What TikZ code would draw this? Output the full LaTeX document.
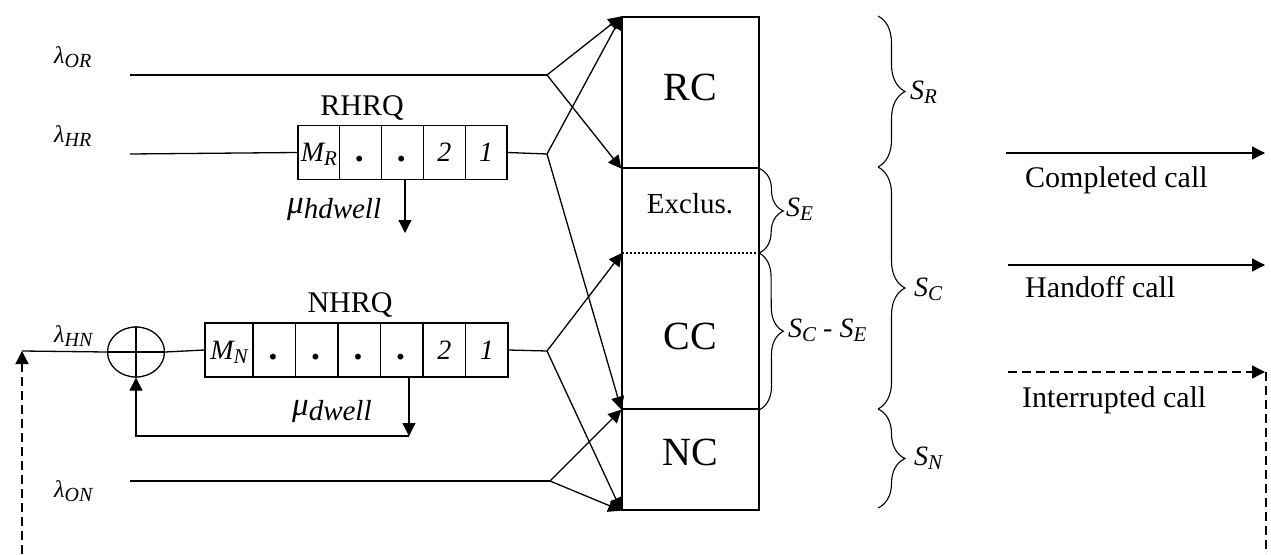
\documentclass[tikz,border=0pt]{standalone}
\usepackage{fontspec}
\setmainfont{Liberation Serif}
\usepackage{graphicx}
\usetikzlibrary{arrows.meta,shapes.geometric,decorations.pathreplacing}
\newcommand\fs[1]{\fontsize{#1}{#1}\selectfont}
\newcommand\qdot{{\fs{36}\bfseries .}}
\tikzset{
  ln/.style={line width=1.3pt},
  arr/.style={ln,-{Triangle[length=13pt,width=13pt]}},
  dsh/.style={ln,dash pattern=on 9pt off 5pt},
  cellR/.style={draw,ln,minimum height=54pt,inner sep=0pt,text height=18pt,text depth=0pt,font=\fs{28}\itshape},
  boxpart/.style={draw,ln,minimum width=137pt,inner sep=0pt},
  brc/.style={decorate,decoration={brace,amplitude=#1},line width=1.1pt},
  lam/.style={anchor=base west,inner sep=0pt,font=\fs{24}\itshape},
  slab/.style={anchor=base west,inner sep=0pt,font=\fs{28}\itshape},
  qlab/.style={inner sep=0pt,font=\fs{30}},
  outlab/.style={anchor=base west,inner sep=0pt,font=\fs{30}},
}
\begin{document}
\begin{tikzpicture}[x=1pt,y=-1pt]
\useasboundingbox (0,0) rectangle (1271,554);

% ---- channel box ----
\node[boxpart,minimum height=151pt] (rc) at (690.5,92.5) {};
\node[boxpart,minimum height=241pt] (mid) at (690.5,288.5) {};
\node[boxpart,minimum height=101pt] (nc) at (690.5,459.5) {};
\coordinate (dl) at (622,253);
\coordinate (dr) at (759,253);
\draw[line width=1.2pt,dash pattern=on 2pt off 2pt] (dl) -- (dr);
\node[inner sep=0pt,font=\fs{40}] (rcT) at (690,87) {RC};
\node[inner sep=0pt,font=\fs{29}] (exT) at (690,204) {Exclus.};
\node[inner sep=0pt,font=\fs{40}] (ccT) at (690,336) {CC};
\node[inner sep=0pt,font=\fs{40}] (ncT) at (690,452) {NC};

% ---- input labels ----
\node[lam] (lOR) at (54,63) {λ\raisebox{-4pt}{\fs{20}OR}};
\node[lam] (lHR) at (54,142) {λ\raisebox{-4pt}{\fs{20}HR}};
\node[lam] (lHN) at (54,342) {λ\raisebox{-4pt}{\fs{20}HN}};
\node[lam] (lON) at (54,497) {λ\raisebox{-4pt}{\fs{20}ON}};

% ---- RHRQ queue ----
\node[qlab] (rhrq) at (362,108) {RHRQ};
\node[cellR,minimum width=41.8pt] (r1) at (318.9,152.5) {M\raisebox{-4pt}{\fs{21}R}};
\node[cellR,minimum width=41.8pt] (r2) at (360.7,152.5) {\qdot};
\node[cellR,minimum width=41.8pt] (r3) at (402.5,152.5) {\qdot};
\node[cellR,minimum width=41.8pt] (r4) at (444.3,152.5) {2};
\node[cellR,minimum width=41.8pt] (r5) at (486.1,152.5) {1};
\node[anchor=base west,inner sep=0pt] (muh) at (287,213) {\fs{33}\itshape μ\raisebox{-5pt}{\fs{29}hdwell}};

% ---- NHRQ queue ----
\node[qlab] (nhrq) at (350,305) {NHRQ};
\node[cellR,minimum width=48pt] (n1) at (229,350) {M\raisebox{-4pt}{\fs{21}N}};
\node[cellR,minimum width=42.5pt] (n2) at (274.25,350) {\qdot};
\node[cellR,minimum width=42.5pt] (n3) at (316.75,350) {\qdot};
\node[cellR,minimum width=42.5pt] (n4) at (359.25,350) {\qdot};
\node[cellR,minimum width=42.5pt] (n5) at (401.75,350) {\qdot};
\node[cellR,minimum width=42.5pt] (n6) at (444.25,350) {2};
\node[cellR,minimum width=42.5pt] (n7) at (486.75,350) {1};
\node[anchor=base west,inner sep=0pt] (mud) at (292,415) {\fs{33}\itshape μ\raisebox{-5pt}{\fs{29}dwell}};

% ---- summation ----
\node[ellipse,draw,ln,minimum width=57pt,minimum height=50pt,inner sep=0pt] (sum) at (136,352) {};
\draw[ln] (sum.north) -- (sum.south) (sum.west) -- (sum.east);

% ---- coordinates ----
\coordinate (sOR) at (130,75);
\coordinate (sHR) at (130,154);
\coordinate (sON) at (130,481);
\coordinate (jOR) at (547,75);
\coordinate (jHR) at (547,154);
\coordinate (jHN) at (547,351);
\coordinate (jON) at (550,481);
\coordinate (muRe) at (405,233);
\coordinate (fbR) at (409,436);
\coordinate (fbL) at (136,436);
\coordinate (fbk) at (22,351);
\coordinate (lb) at (22,554);

% ---- lines ----
\draw[ln] (sOR) -- (jOR);
\draw[ln] (sHR) -- (r1.west);
\draw[ln] (r5.east) -- (jHR);
\draw[ln] (sON) -- (jON);
\draw[ln] (sum.east) -- (n1.west);
\draw[ln] (n7.east) -- (jHN);
\draw[ln] (sum.west) -- (fbk);
\draw[arr] (r3.south -| muRe) -- (muRe);
\draw[arr] (n5.south -| fbR) -- (fbR);
\draw[arr] (fbR) -- (fbL) -- (sum.south);
\draw[dsh,-{Triangle[length=13pt,width=13pt]}] (lb) -- (fbk);

% ---- arrows into the channels ----
\draw[arr] (jOR) -- (rc.north west);
\draw[arr] (jOR) -- (rc.south west);
\draw[arr] (jHR) -- (rc.north west);
\draw[arr] (jHR) -- (mid.south west);
\draw[arr] (jHN) -- (dl);
\draw[arr] (jHN) -- (nc.south west);
\draw[arr] (jON) -- (mid.south west);
\draw[arr] (jON) -- (nc.south west);

% ---- braces ----
\coordinate (b0) at (878,16);
\coordinate (b1) at (878,167);
\coordinate (b2) at (878,409);
\coordinate (b3) at (878,508);
\draw[brc=27pt] (b0) -- (b1);
\draw[brc=27pt] (b1) -- (b2);
\draw[brc=27pt] (b2) -- (b3);
\draw[brc=24pt] (rc.south east) -- (dr);
\draw[brc=24pt] (dr) -- (mid.south east);
\node[slab] (SR) at (910,99) {S\raisebox{-4pt}{\fs{21}R}};
\node[slab] (SC) at (914,296) {S\raisebox{-4pt}{\fs{21}C}};
\node[slab] (SN) at (914,465) {S\raisebox{-4pt}{\fs{21}N}};
\node[slab] (SE) at (786,216) {S\raisebox{-4pt}{\fs{21}E}};
\node[slab] (SCE) at (788,337) {S\raisebox{-4pt}{\fs{21}C}\upshape{} - \itshape S\raisebox{-4pt}{\fs{21}E}};

% ---- outputs ----
\coordinate (o1a) at (1006,153);
\coordinate (o1b) at (1265,153);
\coordinate (o2a) at (1008,265);
\coordinate (o2b) at (1265,265);
\coordinate (o3a) at (1008,372);
\coordinate (o3b) at (1265,372);
\coordinate (o3c) at (1266,372);
\coordinate (o3d) at (1266,554);
\draw[arr] (o1a) -- (o1b);
\draw[arr] (o2a) -- (o2b);
\draw[dsh,-{Triangle[length=13pt,width=13pt]}] (o3a) -- (o3b);
\draw[dsh] (o3c) -- (o3d);
\node[outlab] (t1) at (1025,187) {Completed call};
\node[outlab] (t2) at (1025,297) {Handoff call};
\node[outlab] (t3) at (1022,407) {Interrupted call};
\end{tikzpicture}
\end{document}
